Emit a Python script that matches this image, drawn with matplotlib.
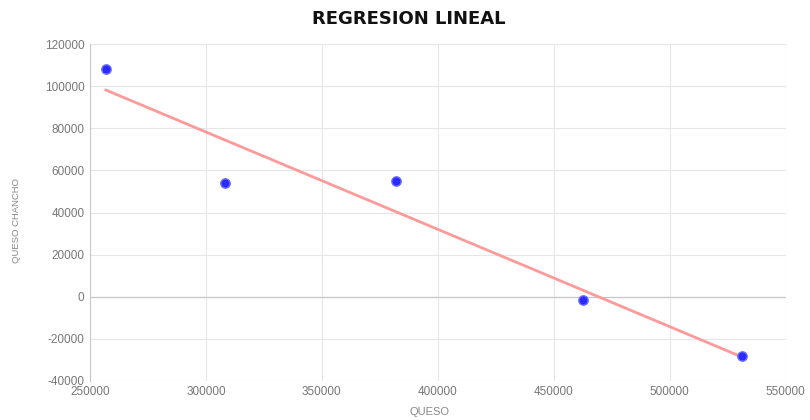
import numpy as np
import matplotlib
matplotlib.use("Agg")
import matplotlib.pyplot as plt

# data
queso = [256900, 308200, 381900, 462500, 531000]
queso_chancho = [108000, 54000, 55000, -1400, -28000]
x_ticks = [250000, 300000, 350000, 400000, 450000, 500000, 550000]
y_ticks = [-40000, -20000, 0, 20000, 40000, 60000, 80000, 100000, 120000]

plt.rcParams['font.family'] = ['Liberation Sans', 'DejaVu Sans']
plt.rcParams['axes.unicode_minus'] = False

fig = plt.figure(figsize=(8.1, 4.2), dpi=100)
ax = fig.add_axes([0.111, 0.093, 0.859, 0.802])

# least squares line over the data range
m, b = np.polyfit(queso, queso_chancho, 1)
xl = np.array([min(queso), max(queso)])
ax.plot(xl, m * xl + b, color='#ff9a9a', lw=2, zorder=2)

ax.scatter(queso, queso_chancho, s=45, color='#2b2bff', edgecolors='#6a6aff',
           linewidths=1, zorder=3)

ax.set_xlim(250000, 550000)
ax.set_ylim(-40000, 120000)
ax.set_xticks(x_ticks)
ax.set_yticks(y_ticks)
ax.grid(True, color='#e6e6e6', lw=0.8)
ax.set_axisbelow(True)
ax.axhline(0, color='#c8c8c8', lw=0.9, zorder=1)

for s in ['top', 'right', 'bottom']:
    ax.spines[s].set_visible(False)
ax.spines['left'].set_color('#c8c8c8')
ax.tick_params(length=0, labelsize=8.5, colors='#777777', pad=4)

fig.text(0.530, 0.019, 'QUESO', ha='center', va='center', fontsize=8,
         color='#888888')
fig.text(0.020, 0.476, 'QUESO CHANCHO', ha='center', va='center', fontsize=6.8,
         color='#888888', rotation=90)
fig.text(0.505, 0.955, 'REGRESION LINEAL', ha='center', va='center',
         fontsize=13, fontweight='bold', color='#111111', family='DejaVu Sans')

fig.savefig('out.png', dpi=100)
